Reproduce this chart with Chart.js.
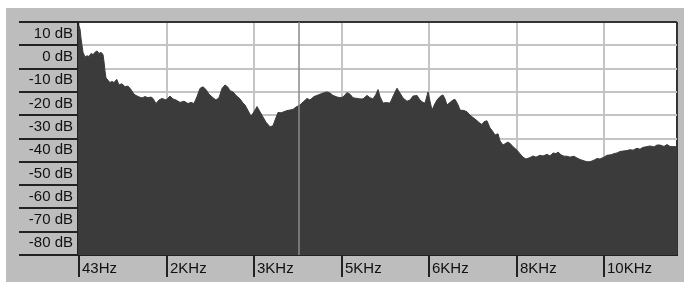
<!DOCTYPE html>
<html><head><meta charset="utf-8">
<script src="https://cdn.jsdelivr.net/npm/chart.js@4"></script>
<style>html,body{margin:0;padding:0;background:#fff}canvas{display:block}</style>
</head><body>
<canvas id="c" width="684" height="282"></canvas>
<script>
const spectrumBin = [
  0,1,2,3,4,5,7,9,11,13,
  15,17,19,21,23,25,26,27,28,30,
  32,34,36,38.7,41,44,47,50,53,56,
  60,64,67,70,73,75,78,81,84,88,
  92,95,98,102,106,110,113,116,119,122,
  125,128,131,135,138,141,144,147,150,152,
  155,158,162,165,167,170,173,176,179,182,
  185,188,192,195,198,200,203,206,209,212,
  215,218,222,226,229,232,236,239,242,245,
  249,252,255,259,262,265,269,272,275,279,
  282,285,289,292,295,298,300,302,305,308,
  312,316,319,322,325,329,332,335,339,342,
  345,347,350,352,354,357,359,362,365,367,
  369,372,375,377,380,382,386,389,392,395,
  398,402,404,406,409,412,414,417,420,422,
  425,428,430,433,435,439,442,445,448,452,
  455,458,462,465,469,472,475,478,480,483,
  486,489,492,496,499,502,506,509,512,516,
  519,522,526,529,533,536,539,542,545,549,
  552,555,559,562,565,569,572,576,579,582,
  586,589,592,595,599
];
const spectrumDb = [
  13,13.3,12,8,5,2,0,0.5,0.2,1.5,
  1,2,2.6,1.5,2,1,-2,-6,-9,-10,
  -11,-10.5,-11,-9.6,-12,-11.5,-12.8,-12.5,-14,-16,
  -17,-17.6,-17,-17.5,-17.2,-17.8,-20,-18.5,-17.8,-18.5,
  -16.8,-18,-18.5,-19.5,-19,-20,-19.5,-20,-17,-13.5,
  -12.8,-14,-16,-17.5,-18.5,-17.5,-13.5,-12,-13,-14.5,
  -15,-16.5,-18,-19.8,-20.6,-23,-25.5,-23.5,-21.3,-23.5,
  -25.8,-28,-30,-29.5,-26,-23.8,-24,-23.5,-23,-22.8,
  -22.5,-21.5,-20.6,-19,-17.8,-18.5,-17,-16.5,-16,-15.5,
  -15,-15.5,-16.5,-17.2,-17.5,-17.2,-15.3,-16,-17.5,-17.8,
  -18,-18,-16.5,-17.5,-18,-16,-14,-17,-19.8,-19.6,
  -19.8,-16,-13.4,-15.5,-17.6,-19,-18.5,-16.8,-16.5,-18.5,
  -19.5,-19.8,-15,-19,-22.8,-20,-18.5,-17,-16.3,-18,
  -20.6,-19.5,-18.5,-18.2,-20.5,-22.8,-23,-23.5,-25,-26,
  -27,-28.5,-29,-27.8,-27.4,-30.5,-31.5,-33.5,-33,-36,
  -37.8,-37,-36.5,-37.5,-38.5,-40,-41.5,-43,-43.8,-43.2,
  -42.5,-43,-42.2,-42.5,-41.8,-42.5,-41.2,-41.5,-40.8,-42,
  -42.6,-42.6,-43,-42.6,-43.4,-44,-44.6,-45,-45,-44.3,
  -43.6,-43.8,-43,-42.2,-42,-41.5,-41.2,-40.6,-40.4,-40.2,
  -39.8,-40,-39.2,-39.6,-38.8,-38.5,-38.2,-38.6,-37.8,-37.8,
  -38.4,-37.6,-38.4,-38.5,-38.5
];
const xTickBins = [1, 89, 176, 264, 351, 439, 526];
const xTickLabels = ['43Hz','2KHz','3KHz','5KHz','6KHz','8KHz','10KHz'];
const xMaxBin = 599;
const yGridValues = [15,5,-5,-15,-25,-35,-45,-55,-65,-75,-85];
const yTickLabels = ['10 dB','0 dB','-10 dB','-20 dB','-30 dB','-40 dB','-50 dB','-60 dB','-70 dB','-80 dB',''];
const cursorBin = 221;

const FONT = {family:'"Liberation Sans", Arial, sans-serif', size:15};

const bgPlugin = {
  id:'bg',
  beforeDraw(chart){
    const {ctx, chartArea:a} = chart;
    ctx.save();
    ctx.fillStyle='#ffffff';
    ctx.fillRect(0,0,chart.width,chart.height);
    ctx.fillStyle='#bdbdbd';
    ctx.fillRect(6,8,chart.width-6,chart.height-8);
    ctx.fillStyle='#ffffff';
    ctx.fillRect(a.left,a.top,a.right-a.left,a.bottom-a.top);
    ctx.restore();
  }
};

new Chart(document.getElementById('c'), {
  type:'line',
  data:{ datasets:[
    { data: spectrumBin.map((b,i)=>({x:b,y:spectrumDb[i]})), fill:'start',
      backgroundColor:'#3b3b3b', borderColor:'#3b3b3b', borderWidth:1, pointRadius:0, tension:0, order:2 },
    { data:[{x:cursorBin,y:15},{x:cursorBin,y:-85}], borderColor:'#8a8a8a', borderWidth:1.5,
      pointRadius:0, fill:false, order:1 }
  ]},
  options:{
    responsive:false, animation:false, devicePixelRatio:1,
    layout:{padding:{left:19, top:22, right:7, bottom:0}},
    plugins:{legend:{display:false}, tooltip:{enabled:false}},
    scales:{
      x:{ type:'linear', min:0, max:xMaxBin,
        afterBuildTicks(s){ s.ticks = xTickBins.map(v=>({value:v})).concat([{value:xMaxBin}]); },
        afterFit(s){ s.height = 27; },
        ticks:{ autoSkip:false, maxRotation:0, minRotation:0, align:'start', padding:-17, labelOffset:3,
          color:'#111', font:FONT,
          callback(v,i){ return i < xTickLabels.length ? xTickLabels[i] : ''; } },
        grid:{ color: c => c.index === xTickBins.length ? '#333' : '#c4c4c4', lineWidth:2,
          tickLength:22, tickColor: c => c.index === xTickBins.length ? 'rgba(0,0,0,0)' : '#222', tickWidth:2 },
        border:{ display:true, color:'#222', width:2 }
      },
      y:{ type:'linear', min:-85, max:15,
        afterBuildTicks(s){ s.ticks = yGridValues.map(v=>({value:v})); },
        afterFit(s){ s.width = 59; },
        ticks:{ padding:-54, labelOffset:11.65, color:'#111', font:FONT,
          callback(v,i){ return yTickLabels[i]; } },
        grid:{ color: c => (c.tick && c.tick.value===15) ? '#333' : '#c4c4c4', lineWidth:2,
          tickLength:59, tickColor:'#222', tickWidth:2 },
        border:{ display:true, color:'#222', width:2 }
      }
    }
  },
  plugins:[bgPlugin]
});
</script>
</body></html>
